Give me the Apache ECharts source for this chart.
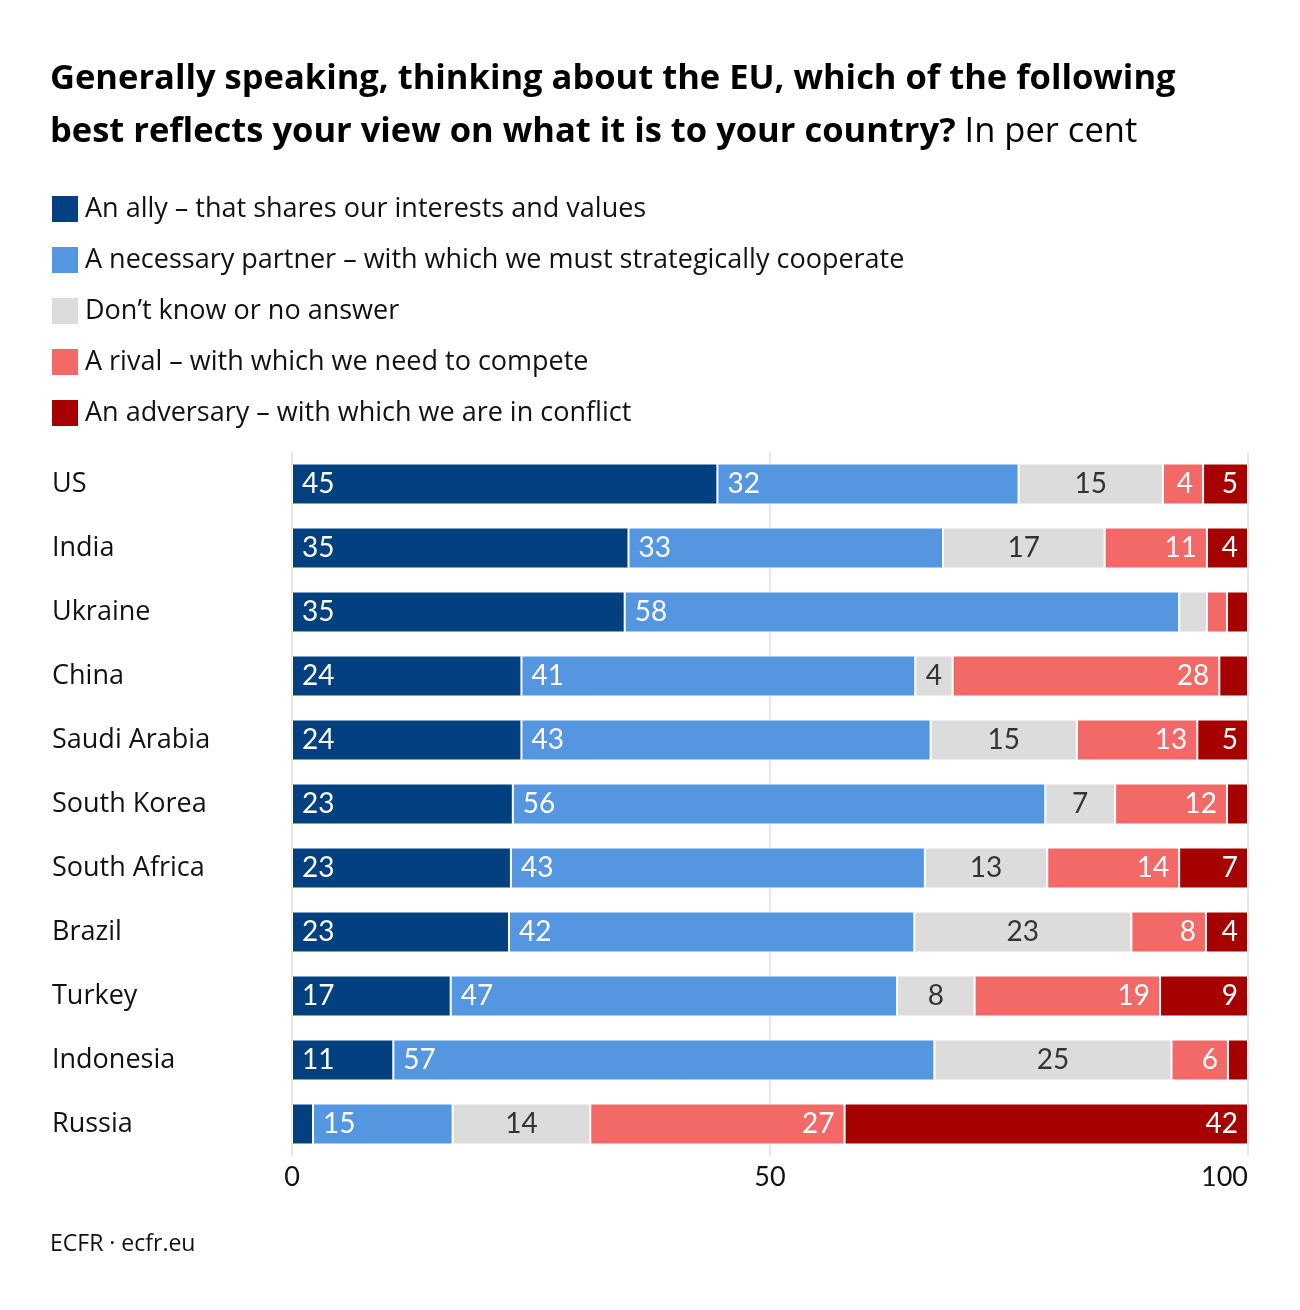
<!DOCTYPE html>
<html>
<head>
<meta charset="utf-8">
<script src="https://cdn.jsdelivr.net/npm/echarts@6/dist/echarts.min.js"></script>
<style>
html,body{margin:0;padding:0;background:#fff;}
#chart{width:1300px;height:1310px;}
</style>
</head>
<body>
<div id="chart"></div>
<script>
const categories = ['US','India','Ukraine','China','Saudi Arabia','South Korea','South Africa','Brazil','Turkey','Indonesia','Russia'];
const seriesNames = [
  'An ally – that shares our interests and values',
  'A necessary partner – with which we must strategically cooperate',
  'Don’t know or no answer',
  'A rival – with which we need to compete',
  'An adversary – with which we are in conflict'
];
const ally      = [44.5,35.2,34.8,24.0,24.0,23.1,22.9,22.7,16.6,10.6,2.2];
const partner   = [31.5,32.9,58.0,41.2,42.8,55.7,43.3,42.4,46.7,56.6,14.6];
const dontKnow  = [15.1,16.9,2.9,3.9,15.3,7.3,12.8,22.7,8.1,24.8,14.4];
const rival     = [4.2,10.7,2.1,27.9,12.6,11.7,13.8,7.8,19.4,5.9,26.6];
const adversary = [4.7,4.3,2.2,3.0,5.3,2.2,7.2,4.4,9.2,2.1,42.2];
const xTicks = [0,50,100];

const FONT = 'Open Sans';
const NUMFONT = 'Lato';
const colors = ['#03407f','#5596e1','#dcdcdc','#f26967','#a60000'];
const labelPos = ['insideLeft','insideLeft','inside','insideRight','insideRight'];
const labelColor = ['#fff','#fff','#333','#fff','#fff'];
const values = [ally, partner, dontKnow, rival, adversary];

const chart = echarts.init(document.getElementById('chart'));
chart.setOption({
  animation: false,
  backgroundColor: '#fff',
  title: {
    left: 50, top: 53, padding: 0,
    text: '{b|Generally speaking, thinking about the EU, which of the following}\n{b|best reflects your view on what it is to your country?}{r| In per cent}',
    textStyle: {
      rich: {
        b: {fontFamily: FONT, fontSize: 34.5, fontWeight: 'bold', color: '#000', lineHeight: 53},
        r: {fontFamily: FONT, fontSize: 34.5, fontWeight: 'normal', color: '#000', lineHeight: 53}
      }
    }
  },
  legend: {
    orient: 'vertical', left: 50, top: 194, padding: 0,
    itemWidth: 28, itemHeight: 28, itemGap: 21,
    icon: 'rect',
    selectedMode: false,
    textStyle: {fontFamily: FONT, fontSize: 27, color: '#111', lineHeight: 26, padding: [0,0,0,1]},
    data: seriesNames
  },
  grid: {left: 292, right: 52, top: 452, bottom: 154, containLabel: false},
  xAxis: {
    type: 'value', min: 0, max: 100, interval: 50,
    axisLine: {show: false}, axisTick: {show: false},
    splitLine: {show: true, lineStyle: {color: '#e6e6e6', width: 2}},
    axisLabel: {fontFamily: NUMFONT, fontSize: 27, color: '#111', margin: 8, alignMaxLabel: 'right',
      formatter: v => xTicks.includes(v) ? String(v) : ''}
  },
  yAxis: {
    type: 'category', data: categories, inverse: true,
    axisLine: {show: false}, axisTick: {show: false},
    axisLabel: {fontFamily: FONT, fontSize: 27, color: '#111', align: 'left', margin: 240}
  },
  series: values.map((arr, i) => ({
    name: seriesNames[i], type: 'bar', stack: 'total', data: arr,
    barWidth: 41,
    itemStyle: {color: colors[i], borderColor: '#fff', borderWidth: 1},
    label: {
      show: true, position: labelPos[i], distance: 10,
      fontFamily: NUMFONT, fontSize: 28, color: labelColor[i],
      formatter: p => p.value >= 3.5 ? String(Math.round(p.value)) : ''
    }
  }))
  ,
  graphic: [{
    type: 'text', left: 50, top: 1233,
    style: {text: 'ECFR · ecfr.eu', fontFamily: FONT, fontSize: 23, fill: '#111'}
  }]
});
</script>
</body>
</html>
